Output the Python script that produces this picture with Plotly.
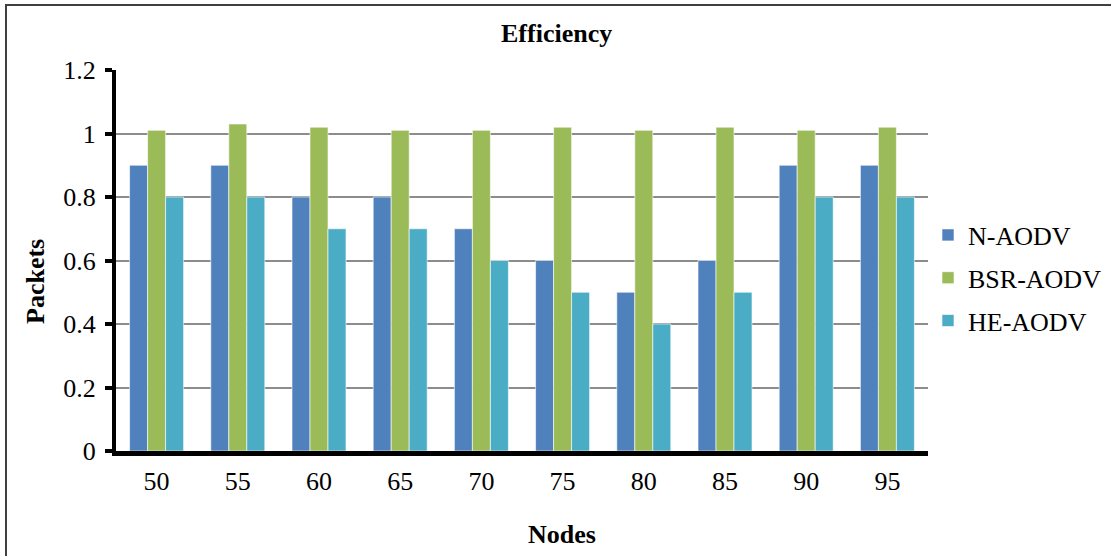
import plotly.graph_objects as go

nodes = ["50", "55", "60", "65", "70", "75", "80", "85", "90", "95"]
n_aodv = [0.9, 0.9, 0.8, 0.8, 0.7, 0.6, 0.5, 0.6, 0.9, 0.9]
bsr_aodv = [1.01, 1.03, 1.02, 1.01, 1.01, 1.02, 1.01, 1.02, 1.01, 1.02]
he_aodv = [0.8, 0.8, 0.7, 0.7, 0.6, 0.5, 0.4, 0.5, 0.8, 0.8]

series = [
    ("N-AODV", n_aodv, "#4F81BD"),
    ("BSR-AODV", bsr_aodv, "#9BBB59"),
    ("HE-AODV", he_aodv, "#4BACC6"),
]

FONT = "Liberation Serif"
FS = 26

W, H = 1111, 556
# paper area spans x 116..1111, y 70..451; axes occupy x 116..928
L, T, B = 116, 70, 451
AX_R = 928
PW, PH = W - L, B - T


def px_x(x):
    return (x - L) / PW


def px_y(y):
    return (B - y) / PH


fig = go.Figure()
for name, vals, color in series:
    fig.add_trace(go.Bar(
        x=nodes, y=vals, name=name, legendgroup=name,
        marker=dict(color=color, line=dict(color="rgba(255,255,255,0.6)", width=1)),
    ))

fig.update_layout(
    width=W, height=H,
    margin=dict(l=L, r=0, t=T, b=H - B, pad=0),
    paper_bgcolor="white", plot_bgcolor="white",
    barmode="group", bargap=0.335, bargroupgap=0,
    font=dict(family=FONT, size=FS, color="black"),
    legend=dict(x=px_x(928), xanchor="left", y=px_y(278), yanchor="middle",
                font=dict(family=FONT, size=FS), tracegroupgap=6, itemwidth=30,
                traceorder="grouped", bgcolor="rgba(0,0,0,0)"),
    showlegend=True,
)

fig.update_yaxes(
    range=[0, 1.2], tickvals=[0, 0.2, 0.4, 0.6, 0.8, 1, 1.2],
    ticktext=["0", "0.2", "0.4", "0.6", "0.8", "1", "1.2"],
    tickfont=dict(family=FONT, size=FS),
    showgrid=True, gridcolor="#8C8C8C", gridwidth=2,
    zeroline=False,
    showline=True, linecolor="black", linewidth=4,
    ticks="outside", ticklen=7, tickwidth=4, tickcolor="black",
    ticklabelstandoff=4,
)
fig.update_xaxes(
    domain=[0, px_x(AX_R)],
    showline=True, linecolor="black", linewidth=5,
    ticks="", ticklabelstandoff=3,
    tickfont=dict(family=FONT, size=FS),
)

# Chart title and axis titles
fig.add_annotation(text="<b>Efficiency</b>", xref="paper", yref="paper",
                   x=px_x(556), y=px_y(33), xanchor="center", yanchor="middle",
                   showarrow=False, font=dict(family=FONT, size=FS))
fig.add_annotation(text="<b>Nodes</b>", xref="paper", yref="paper",
                   x=px_x(562), y=px_y(534), xanchor="center", yanchor="middle",
                   showarrow=False, font=dict(family=FONT, size=FS))
fig.add_annotation(text="<b>Packets</b>", xref="paper", yref="paper",
                   x=px_x(35), y=px_y(282), xanchor="center", yanchor="middle",
                   textangle=-90, showarrow=False, font=dict(family=FONT, size=FS))

# Outer frame edges (top and left)
fig.add_shape(type="line", xref="paper", yref="paper",
              x0=px_x(5), x1=px_x(W), y0=px_y(5), y1=px_y(5),
              line=dict(color="#404040", width=2))
fig.add_shape(type="line", xref="paper", yref="paper",
              x0=px_x(6), x1=px_x(6), y0=px_y(5), y1=px_y(H),
              line=dict(color="#404040", width=2))

fig.write_html("out.html")
